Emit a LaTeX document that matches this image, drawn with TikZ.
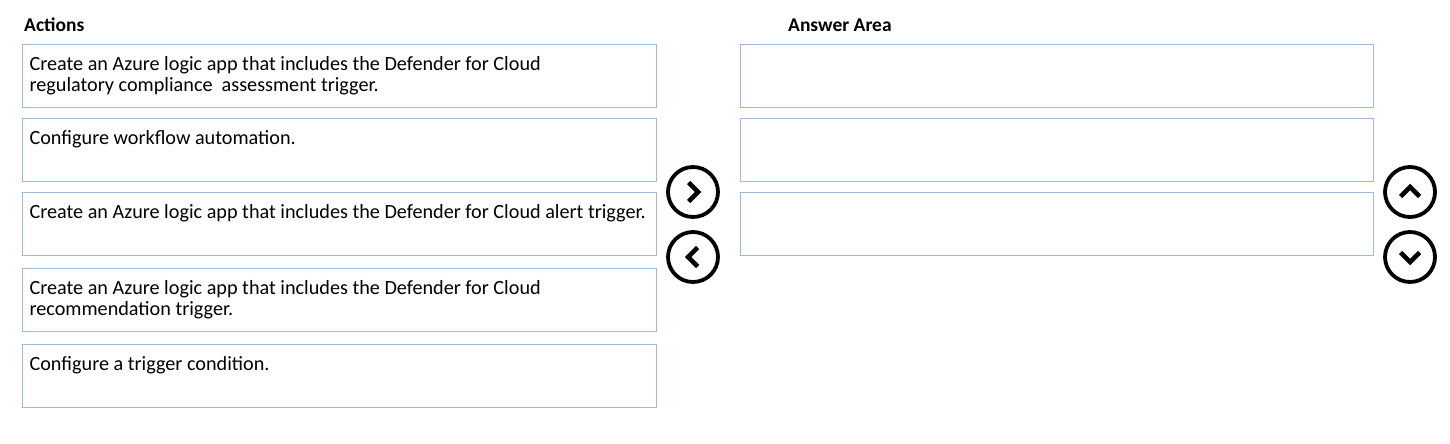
\documentclass[tikz,border=0pt]{standalone}
\usepackage{fontspec}
\setmainfont{Carlito}
\usetikzlibrary{positioning}

\definecolor{boxline}{RGB}{160,184,218}
\newcommand{\boxtext}[1]{\parbox[t][42pt][t]{620pt}{\fontsize{20.2}{21.5}\selectfont\strut #1}}

\begin{document}
\begin{tikzpicture}[
  x=1pt, y=-1pt,
  actbox/.style={rectangle, draw=boxline, line width=1.1pt, minimum width=634pt, minimum height=63pt, inner sep=0pt, align=left},
  heading/.style={font=\fontsize{19.5}{21}\selectfont\bfseries, inner sep=0pt, anchor=base west},
  button/.style={circle, draw, line width=3.8pt, minimum size=50pt, inner sep=0pt},
  chev/.style={line width=4.6pt, line join=miter}
]
\useasboundingbox (0,0) rectangle (1450,444);

% headings
\node[heading] (actions) at (24,32) {Actions};
\node[heading] (answer) at (788,32) {Answer Area};

% action boxes
\node[actbox, anchor=north west] (act1) at (22,44) {\boxtext{Create an Azure logic app that includes the Defender for Cloud\\regulatory compliance\ \ assessment trigger.}};
\node[actbox, below=10pt of act1] (act2) {\boxtext{Configure workflow automation.}};
\node[actbox, below=10pt of act2] (act3) {\boxtext{Create an Azure logic app that includes the Defender for Cloud alert trigger.}};
\node[actbox, below=12pt of act3] (act4) {\boxtext{Create an Azure logic app that includes the Defender for Cloud\\recommendation trigger.}};
\node[actbox, below=11.5pt of act4] (act5) {\boxtext{Configure a trigger condition.}};

% answer boxes
\node[actbox, anchor=north west, minimum width=633pt] (ans1) at (740,44) {};
\node[actbox, minimum width=633pt, below=10pt of ans1] (ans2) {};
\node[actbox, minimum width=633pt, below=10pt of ans2] (ans3) {};

% buttons
\node[button] (moveright) at (693,192) {};
\node[button] (moveleft) at (693,257) {};
\node[button] (moveup) at (1410,192) {};
\node[button] (movedown) at (1410,257) {};

\draw[chev] ([shift={(-4.5pt,9.5pt)}]moveright.center) -- ++(9.5pt,-9.5pt) -- ++(-9.5pt,-9.5pt);
\draw[chev] ([shift={(4.5pt,9.5pt)}]moveleft.center) -- ++(-9.5pt,-9.5pt) -- ++(9.5pt,-9.5pt);
\draw[chev] ([shift={(-9.5pt,-4.5pt)}]moveup.center) -- ++(9.5pt,9.5pt) -- ++(9.5pt,-9.5pt);
\draw[chev] ([shift={(-9.5pt,4.5pt)}]movedown.center) -- ++(9.5pt,-9.5pt) -- ++(9.5pt,9.5pt);
\end{tikzpicture}
\end{document}
